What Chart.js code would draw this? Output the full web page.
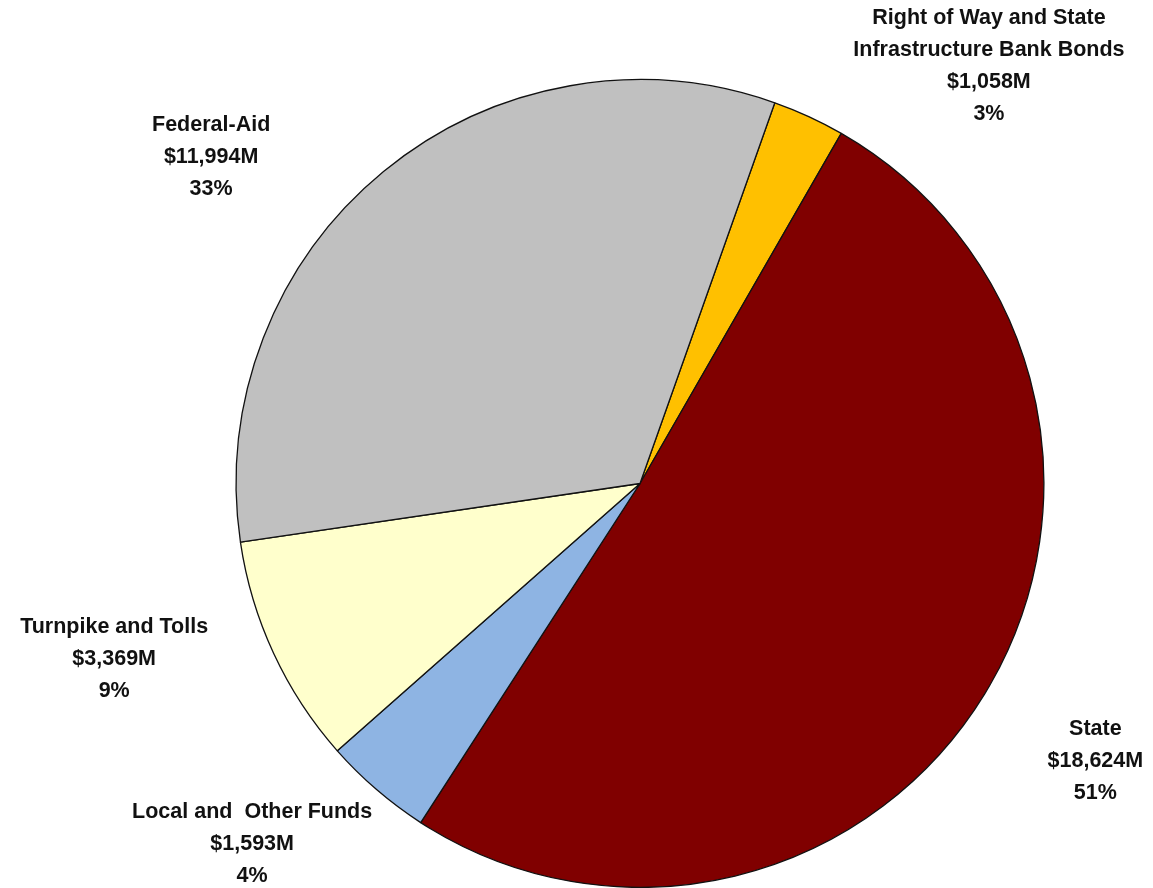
<!DOCTYPE html>
<html>
<head>
<meta charset="utf-8">
<script src="https://cdn.jsdelivr.net/npm/chart.js@4.4.1/dist/chart.umd.min.js"></script>
<style>
  html, body { margin: 0; padding: 0; background: #ffffff; overflow: hidden; }
  #wrap { width: 1153px; height: 888px; position: relative; }
</style>
</head>
<body>
<div id="wrap"><canvas id="c" width="1153" height="888"></canvas></div>
<script>
// ---- data ----
const categories = [
  ["Right of Way and State", "Infrastructure Bank Bonds"],
  ["State"],
  ["Local and  Other Funds"],
  ["Turnpike and Tolls"],
  ["Federal-Aid"]
];
const valuesMillions = [1058, 18624, 1593, 3369, 11994];
const sliceColors = ["#FFC000", "#800000", "#8EB4E3", "#FFFFCC", "#C0C0C0"];

// ---- label layout (angle from top clockwise in degrees, distance as multiple of radius) ----
const labelAngles = [39.9, 121.4, 227.1, 251.5, 307.3];
const labelDist = [1.347, 1.321, 1.311, 1.373, 1.335];

const LABEL_FONT = 'bold 21.5px "Liberation Sans", Arial, sans-serif';
const LINE_H = 32;

const labelPlugin = {
  id: 'outsideLabels',
  afterDatasetsDraw(chart) {
    const ctx = chart.ctx;
    const meta = chart.getDatasetMeta(0);
    const total = valuesMillions.reduce((a, b) => a + b, 0);
    ctx.save();
    ctx.font = LABEL_FONT;
    ctx.fillStyle = '#111111';
    ctx.textAlign = 'center';
    ctx.textBaseline = 'middle';
    meta.data.forEach((arc, i) => {
      const cx = arc.x, cy = arc.y, r = arc.outerRadius;
      const a = labelAngles[i] * Math.PI / 180;
      const x = cx + Math.sin(a) * r * labelDist[i];
      const y = cy - Math.cos(a) * r * labelDist[i];
      const lines = categories[i].slice();
      lines.push('$' + valuesMillions[i].toLocaleString('en-US') + 'M');
      lines.push(Math.round(valuesMillions[i] / total * 100) + '%');
      const y0 = y - (lines.length - 1) * LINE_H / 2;
      lines.forEach((t, k) => ctx.fillText(t, x, y0 + k * LINE_H));
    });
    ctx.restore();
  }
};

new Chart(document.getElementById('c'), {
  type: 'pie',
  data: {
    labels: categories.map(c => c.join(' ')),
    datasets: [{
      data: valuesMillions,
      backgroundColor: sliceColors,
      borderColor: '#111111',
      borderWidth: 1.3
    }]
  },
  options: {
    responsive: false,
    animation: false,
    rotation: 19.5,
    layout: { padding: { left: 235, right: 108, top: 79, bottom: 0 } },
    plugins: {
      legend: { display: false },
      tooltip: { enabled: false }
    }
  },
  plugins: [labelPlugin]
});
</script>
</body>
</html>
